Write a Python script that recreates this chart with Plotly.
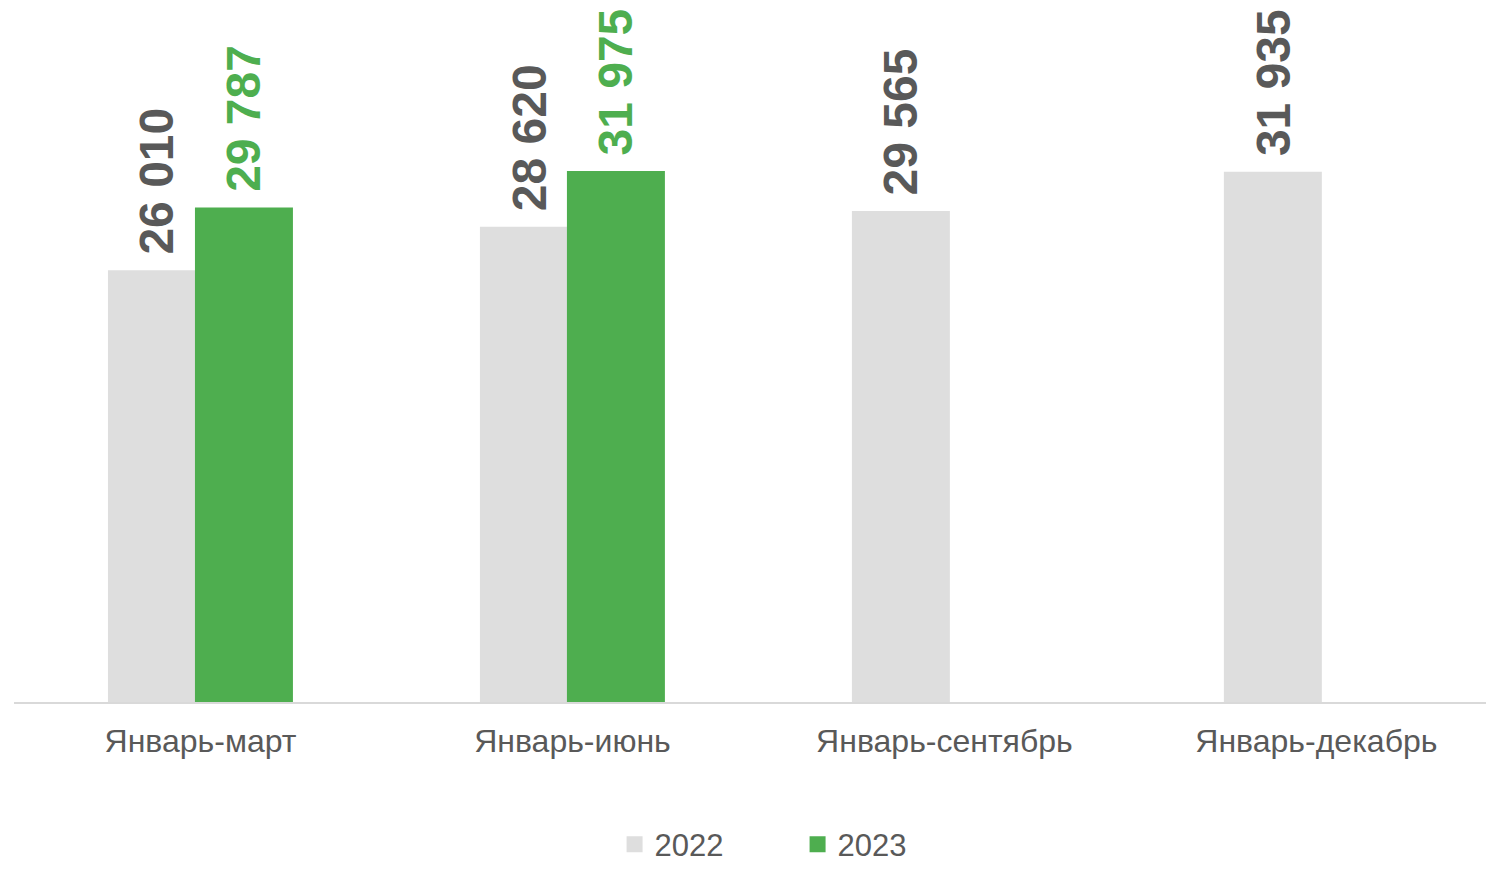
import plotly.graph_objects as go

categories = ["Январь-март", "Январь-июнь", "Январь-сентябрь", "Январь-декабрь"]
values_2022 = [26010, 28620, 29565, 31935]
values_2023 = [29787, 31975]
series_names = ["2022", "2023"]

GRAY = "#DEDEDE"
GREEN = "#4EAE4F"
TEXT_GRAY = "#595959"
FONT = "Arial, Liberation Sans, sans-serif"

BAR_W = 0.2634
OFF_22 = -0.2487
OFF_23 = -0.0148

x22 = list(range(len(values_2022)))
x23 = list(range(len(values_2023)))

def fmt(v):
    return f"{v:,}".replace(",", " ")

fig = go.Figure()
fig.add_trace(go.Bar(
    x=x22, y=values_2022, name=series_names[0], showlegend=False,
    marker=dict(color=GRAY, line=dict(width=0)),
    width=BAR_W, offset=OFF_22,
))
fig.add_trace(go.Bar(
    x=x23, y=values_2023, name=series_names[1], showlegend=False,
    marker=dict(color=GREEN, line=dict(width=0)),
    width=BAR_W, offset=OFF_23,
))
# legend entries (square swatches)
for nm, col in zip(series_names, [GRAY, GREEN]):
    fig.add_trace(go.Scatter(
        x=[None], y=[None], mode="markers", name=nm,
        marker=dict(symbol="square", size=16, color=col, line=dict(width=0)),
        showlegend=True,
    ))

annotations = []
for xi, v in zip(x22, values_2022):
    annotations.append(dict(
        x=xi + OFF_22 + BAR_W / 2, y=v, xref="x", yref="y",
        text=fmt(v), showarrow=False, textangle=-90,
        xanchor="center", yanchor="bottom", yshift=14,
        font=dict(family=FONT, size=48, color=TEXT_GRAY, weight="bold"),
    ))
for xi, v in zip(x23, values_2023):
    annotations.append(dict(
        x=xi + OFF_23 + BAR_W / 2, y=v, xref="x", yref="y",
        text=fmt(v), showarrow=False, textangle=-90,
        xanchor="center", yanchor="bottom", yshift=14,
        font=dict(family=FONT, size=48, color=GREEN, weight="bold"),
    ))

fig.update_layout(
    width=1486, height=872, autosize=False,
    margin=dict(l=14, r=0, t=0, b=158),
    paper_bgcolor="white", plot_bgcolor="white",
    barmode="overlay",
    annotations=annotations,
    showlegend=True,
    legend=dict(
        orientation="h", x=0.408, xanchor="left", y=-0.203, yanchor="middle",
        font=dict(family=FONT, size=31, color=TEXT_GRAY),
        entrywidth=138, entrywidthmode="pixels",
        itemsizing="trace",
        traceorder="normal",
    ),
    xaxis=dict(
        range=[-0.5013, 3.456],
        tickvals=list(range(len(categories))), ticktext=categories,
        showline=True, linecolor="#D9D9D9", linewidth=2,
        showgrid=False, zeroline=False, ticks="",
        tickfont=dict(family=FONT, size=32, color=TEXT_GRAY),
        ticklabelstandoff=10,
    ),
    yaxis=dict(
        range=[0, 42279], visible=False, showgrid=False, zeroline=False,
    ),
)

fig.write_html(
    "out.html",
    config={"responsive": False, "displayModeBar": False},
    post_script=(
        "document.documentElement.style.margin='0';"
        "document.body.style.margin='0';document.body.style.padding='0';"
        "document.body.style.overflow='hidden';"
        "document.documentElement.style.overflow='hidden';"
    ),
)
